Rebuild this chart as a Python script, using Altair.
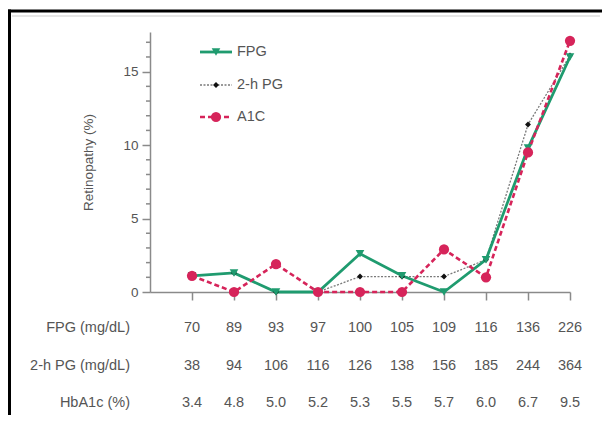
import altair as alt
import pandas as pd

# ---- data ----
idx = [1, 2, 3, 4, 5, 6, 7, 8, 9, 10]
fpg_vals = ["70", "89", "93", "97", "100", "105", "109", "116", "136", "226"]
pg2h_vals = ["38", "94", "106", "116", "126", "138", "156", "185", "244", "364"]
hba1c_vals = ["3.4", "4.8", "5.0", "5.2", "5.3", "5.5", "5.7", "6.0", "6.7", "9.5"]
ret_fpg = [1.1, 1.3, 0.0, 0.0, 2.6, 1.1, 0.0, 2.2, 9.8, 16.0]
ret_2h = [1.1, 1.3, 0.0, 0.0, 1.05, 1.05, 1.05, 2.2, 11.4, 16.1]
ret_a1c = [1.1, 0.0, 1.9, 0.0, 0.0, 0.0, 2.9, 1.0, 9.5, 17.1]
y_major = [0, 5, 10, 15]
y_minor = [1, 2, 3, 4, 6, 7, 8, 9, 11, 12, 13, 14, 16, 17]
series = ["FPG", "2-h PG", "A1C"]
row_labels = ["FPG (mg/dL)", "2-h PG (mg/dL)", "HbA1c (%)"]

FONT = "Liberation Sans"
TXT = "#555555"
AX = "#8a8a8a"

styles = {
    "FPG": dict(line="#1f9b6f", pt="#1f9b6f", dash=None, w=2.8, shape="triangle-down", size=75),
    "2-h PG": dict(line="#7a7a7a", pt="#111111", dash=[2, 1.5], w=1.3, shape="diamond", size=35),
    "A1C": dict(line="#d6245a", pt="#d6245a", dash=[5, 3], w=2.6, shape="circle", size=105),
}
values = {"FPG": ret_fpg, "2-h PG": ret_2h, "A1C": ret_a1c}

x_scale = alt.Scale(domain=[0, 10], nice=False, zero=False)
x_axis = alt.Axis(values=idx, labels=False, title=None, grid=False,
                  domainColor=AX, domainWidth=1.5, tickColor=AX,
                  tickWidth=1.5, tickSize=8)
y_scale = alt.Scale(domain=[0, 17.7], nice=False, zero=True)
y_axis = alt.Axis(values=y_major, grid=False, tickSize=8,
                  domainColor=AX, domainWidth=1.5, tickColor=AX, tickWidth=1.5,
                  labelColor=TXT, labelFontSize=13.5, labelFont=FONT, labelPadding=4,
                  title="Retinopathy (%)", titleColor=TXT, titleFontSize=13.5,
                  titleFont=FONT, titleFontWeight="normal", titlePadding=27)


def X():
    return alt.X("idx:Q", scale=x_scale, axis=x_axis)


def Y():
    return alt.Y("v:Q", scale=y_scale, axis=y_axis)


layers = []

# ---- frame (decoration) ----
one = pd.DataFrame({"a": [0]})
layers.append(alt.Chart(one).mark_rect(color="#e6e6e6").encode(
    x=alt.value(-138), x2=alt.value(450), y=alt.value(-17), y2=alt.value(-15)))
layers.append(alt.Chart(one).mark_rect(color="black").encode(
    x=alt.value(-142), x2=alt.value(452), y=alt.value(-22.5), y2=alt.value(-19.5)))
layers.append(alt.Chart(one).mark_rect(color="black").encode(
    x=alt.value(-142), x2=alt.value(-139), y=alt.value(-22.5), y2=alt.value(383)))

# ---- data lines and points ----
order = ["2-h PG", "FPG", "A1C"]
for s in order:
    st = styles[s]
    df = pd.DataFrame({"idx": idx, "v": values[s]})
    kw = dict(color=st["line"], strokeWidth=st["w"])
    if st["dash"]:
        kw["strokeDash"] = st["dash"]
    layers.append(alt.Chart(df).mark_line(**kw).encode(x=X(), y=Y()))

# minor ticks on the y axis
mdf = pd.DataFrame({"v": y_minor})
layers.append(alt.Chart(mdf).mark_rule(color=AX, strokeWidth=1.5).encode(
    x=alt.value(-4), x2=alt.value(0), y=Y()))

for s in order:
    st = styles[s]
    df = pd.DataFrame({"idx": idx, "v": values[s]})
    layers.append(
        alt.Chart(df).mark_point(filled=True, shape=st["shape"], size=st["size"],
                                 color=st["pt"], opacity=1)
        .encode(x=X(), y=Y()))

# ---- legend ----
leg_px = [20, 53, 85]
for k, s in enumerate(series):
    st = styles[s]
    df = pd.DataFrame({"name": [s]})
    kw = dict(color=st["line"], strokeWidth=st["w"])
    if st["dash"]:
        kw["strokeDash"] = st["dash"]
    layers.append(alt.Chart(df).mark_rule(**kw).encode(
        x=alt.value(50), x2=alt.value(82), y=alt.value(leg_px[k])))
    layers.append(alt.Chart(df).mark_point(filled=True, shape=st["shape"], size=st["size"],
                                           color=st["pt"], opacity=1)
                  .encode(x=alt.value(66), y=alt.value(leg_px[k])))
    layers.append(alt.Chart(df).mark_text(align="left", baseline="middle", font=FONT,
                                          fontSize=14.5, color=TXT)
                  .encode(x=alt.value(87), y=alt.value(leg_px[k]), text="name:N"))

# ---- table under the axis ----
row_px = [296, 334, 371]
for r, vals in enumerate([fpg_vals, pg2h_vals, hba1c_vals]):
    df = pd.DataFrame({"idx": idx, "t": vals})
    layers.append(alt.Chart(df).mark_text(align="center", baseline="middle", font=FONT,
                                          fontSize=14.5, color=TXT)
                  .encode(x=X(), y=alt.value(row_px[r]), text="t:N"))
    ldf = pd.DataFrame({"t": [row_labels[r]]})
    layers.append(alt.Chart(ldf).mark_text(align="right", baseline="middle", font=FONT,
                                           fontSize=14.5, color=TXT)
                  .encode(x=alt.value(-20), y=alt.value(row_px[r]), text="t:N"))

chart = alt.layer(*layers).properties(
    width=420, height=260,
    padding={"left": 142, "top": 24, "right": 34, "bottom": 125},
    autosize=alt.AutoSizeParams(type="none"),
    background="white",
).configure(font=FONT).configure_view(strokeWidth=0, stroke=None)

chart.save("out.html", embed_options={"renderer": "svg", "actions": False})
